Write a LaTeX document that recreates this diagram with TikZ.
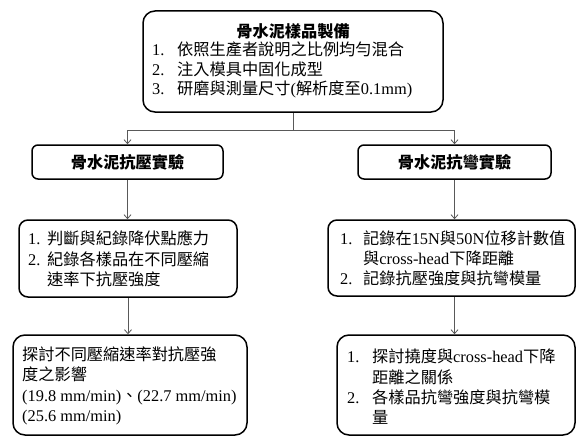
\documentclass[tikz,border=0pt]{standalone}
\usepackage{fontspec}
\setmainfont{Noto Sans CJK TC}
\newfontfamily\lt{Liberation Serif}[Scale=1.01]
\usetikzlibrary{arrows.meta}
\newcommand\lat[1]{{\lt #1}}
\newcommand\numlab[2]{\makebox[#1][l]{\lt #2}}
\begin{document}
\begin{tikzpicture}[x=1pt,y=-1pt,
  box/.style={draw=black,line width=1.5pt,rounded corners=9pt,inner sep=0pt},
  txt/.style={inner sep=0pt,align=left,font=\fontsize{16.2}{20.3}\selectfont},
  ttl/.style={font=\fontsize{16.2}{20}\selectfont\bfseries},
  conn/.style={draw=black!65,line width=0.8pt},
  arr/.style={conn,-{Straight Barb[length=4pt,width=7pt]}}]
\useasboundingbox (0,0) rectangle (576,436);
% top box
\node[box,minimum width=300pt,minimum height=101pt,rounded corners=12pt] (top) at (293,61.5) {};
\node[ttl] (toptitle) at (293,31.5) {骨水泥樣品製備};
\node[txt,anchor=west,font=\fontsize{16.2}{19.3}\selectfont] (toplist) at (152,70) {\numlab{25pt}{1.}依照生產者說明之比例均勻混合\\
\numlab{25pt}{2.}注入模具中固化成型\\
\numlab{25pt}{3.}研磨與測量尺寸\lat{(}解析度至\lat{0.1mm)}};
% second level
\node[box,ttl,minimum width=191pt,minimum height=34pt,rounded corners=6pt] (b2l) at (127.5,162) {骨水泥抗壓實驗};
\node[box,ttl,minimum width=193pt,minimum height=34pt,rounded corners=6pt] (b2r) at (454.5,162) {骨水泥抗彎實驗};
\coordinate (j) at (293,130);
\draw[conn] (top.south) -- (j);
\draw[arr] (j) -| (b2l.north);
\draw[arr] (j) -| (b2r.north);
% third level
\node[box,minimum width=218pt,minimum height=77pt] (b3l) at (128,258.5) {};
\node[txt,anchor=west] (t3l) at (28,259) {\numlab{19pt}{1.}判斷與紀錄降伏點應力\\
\numlab{19pt}{2.}紀錄各樣品在不同壓縮\\
\hspace*{19pt}速率下抗壓強度};
\node[box,minimum width=247pt,minimum height=76pt] (b3r) at (451.5,258) {};
\node[txt,anchor=west] (t3r) at (340,258.5) {\numlab{23pt}{1.}記錄在\lat{15N}與\lat{50N}位移計數值\\
\hspace*{23pt}與\lat{cross-head}下降距離\\
\numlab{23pt}{2.}記錄抗壓強度與抗彎模量};
% fourth level
\node[box,minimum width=234pt,minimum height=100pt,rounded corners=12pt] (b4l) at (130,385) {};
\node[txt,anchor=west] (t4l) at (22,386) {探討不同壓縮速率對抗壓強\\
度之影響\\
\lat{(19.8 mm/min)}、\lat{(22.7 mm/min)}\\
\lat{(25.6 mm/min)}};
\node[box,minimum width=238pt,minimum height=100pt,rounded corners=12pt] (b4r) at (456,385) {};
\node[txt,anchor=west] (t4r) at (347,387) {\numlab{25pt}{1.}探討撓度與\lat{cross-head}下降\\
\hspace*{25pt}距離之關係\\
\numlab{25pt}{2.}各樣品抗彎強度與抗彎模\\
\hspace*{25pt}量};
% arrows
\draw[arr] (b2l.south) -- (b2l.south |- b3l.north);
\draw[arr] (b3l.south) -- (b3l.south |- b4l.north);
\draw[arr] (b2r.south) -- (b2r.south |- b3r.north);
\draw[arr] (b2r.south |- b3r.south) -- (b2r.south |- b4r.north);
\end{tikzpicture}
\end{document}
